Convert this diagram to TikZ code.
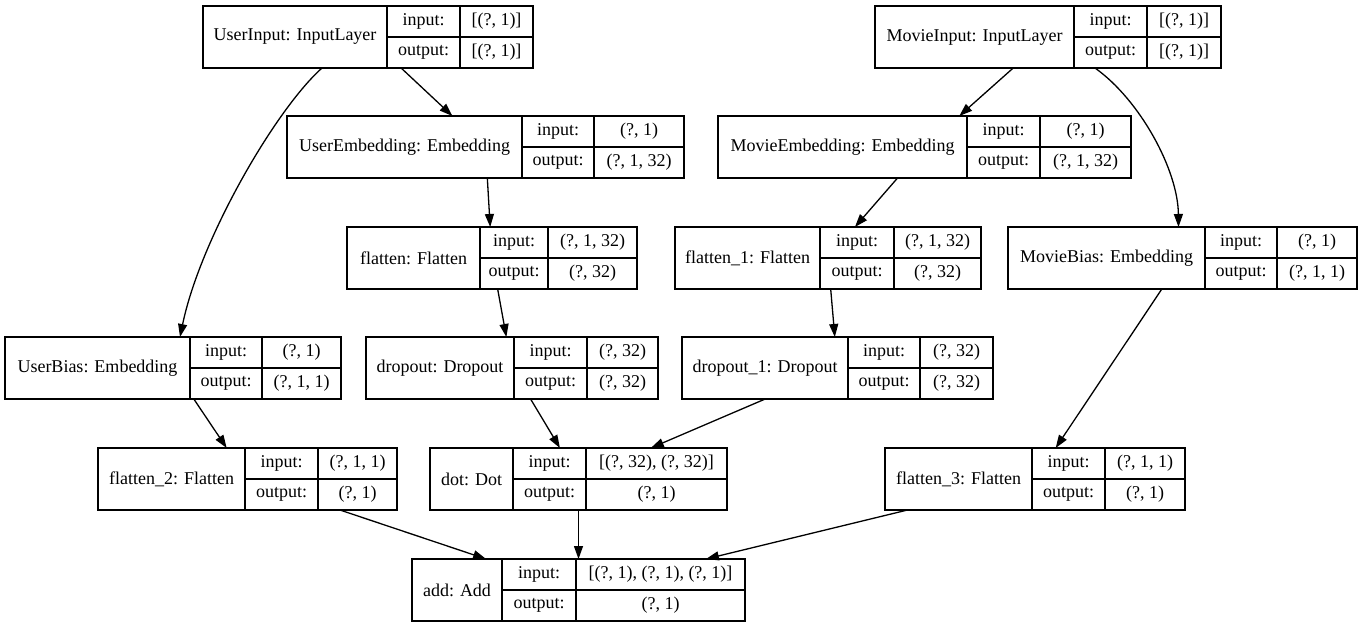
\documentclass[tikz,border=0pt]{standalone}
\usepackage{fontspec}
\setmainfont{Liberation Serif}
\usetikzlibrary{arrows.meta}

% #1 name, #2 left, #3 top, #4 first divider, #5 second divider, #6 right,
% #7 title, #8 input shape, #9 output shape
\newcommand{\layer}[9]{
	\node[layerbox, minimum width={(#6-#2)*1bp}, anchor=north west] (#1) at (#2,#3) {};
	\draw (#4,#3) -- (#4,{#3+62});
	\draw (#5,#3) -- (#5,{#3+62});
	\draw (#4,{#3+31}) -- (#6,{#3+31});
	\node at ({(#2+#4)/2},{#3+31}) {#7};
	\node at ({(#4+#5)/2},{#3+15.5}) {input:};
	\node at ({(#4+#5)/2},{#3+46.5}) {output:};
	\node at ({(#5+#6)/2},{#3+15.5}) {#8};
	\node at ({(#5+#6)/2},{#3+46.5}) {#9};
}

\begin{document}
\begin{tikzpicture}[x=1bp, y=-1bp, line width=1.3bp,
	font=\fontsize{18bp}{21bp}\selectfont,
	layerbox/.style={draw, inner sep=0pt, outer sep=0pt, minimum height=62bp},
	flow/.style={-{Triangle[length=13bp, width=9bp]}}]

	\useasboundingbox (0,0) rectangle (1363,627);

	\layer{userinput}{203}{6}{387}{460}{533}{UserInput: InputLayer}{[(?, 1)]}{[(?, 1)]}
	\layer{movieinput}{875}{6}{1074}{1147}{1221}{MovieInput: InputLayer}{[(?, 1)]}{[(?, 1)]}
	\layer{userembedding}{287}{116}{522}{594}{684}{UserEmbedding: Embedding}{(?, 1)}{(?, 1, 32)}
	\layer{movieembedding}{718}{116}{967}{1040}{1131}{MovieEmbedding: Embedding}{(?, 1)}{(?, 1, 32)}
	\layer{flatten}{347}{227}{480}{548}{637}{flatten: Flatten}{(?, 1, 32)}{(?, 32)}
	\layer{flatten1}{675}{227}{820}{894}{981}{flatten\_1: Flatten}{(?, 1, 32)}{(?, 32)}
	\layer{moviebias}{1008}{227}{1205}{1277}{1357}{MovieBias: Embedding}{(?, 1)}{(?, 1, 1)}
	\layer{userbias}{5}{337}{190}{262}{341}{UserBias: Embedding}{(?, 1)}{(?, 1, 1)}
	\layer{dropout}{366}{337}{514}{587}{658}{dropout: Dropout}{(?, 32)}{(?, 32)}
	\layer{dropout1}{682}{337}{848}{920}{993}{dropout\_1: Dropout}{(?, 32)}{(?, 32)}
	\layer{flatten2}{98}{448}{245}{318}{397}{flatten\_2: Flatten}{(?, 1, 1)}{(?, 1)}
	\layer{dot}{430}{448}{513}{586}{727}{dot: Dot}{[(?, 32), (?, 32)]}{(?, 1)}
	\layer{flatten3}{885}{448}{1032}{1105}{1185}{flatten\_3: Flatten}{(?, 1, 1)}{(?, 1)}
	\layer{add}{412}{559}{502}{576}{745}{add: Add}{[(?, 1), (?, 1), (?, 1)]}{(?, 1)}

	\draw[flow] (userinput) -- (userembedding);
	\draw[flow] ([xshift=-46bp]userinput.south) .. controls (275,110) and (200,240) .. ([xshift=7bp]userbias.north);
	\draw[flow] (movieinput) -- (movieembedding);
	\draw[flow] ([xshift=47bp]movieinput.south) .. controls (1140,100) and (1178,170) .. ([xshift=-4bp]moviebias.north);
	\draw[flow] (userembedding) -- (flatten);
	\draw[flow] (movieembedding) -- (flatten1);
	\draw[flow] (flatten) -- (dropout);
	\draw[flow] (flatten1) -- (dropout1);
	\draw[flow] (userbias) -- (flatten2);
	\draw[flow] (moviebias) -- (flatten3);
	\draw[flow] (dropout) -- (dot);
	\draw[flow] (dropout1) -- (dot);
	\draw[flow] (flatten2) -- (add);
	\draw[flow] (dot) -- (add);
	\draw[flow] (flatten3) -- (add);

\end{tikzpicture}
\end{document}
